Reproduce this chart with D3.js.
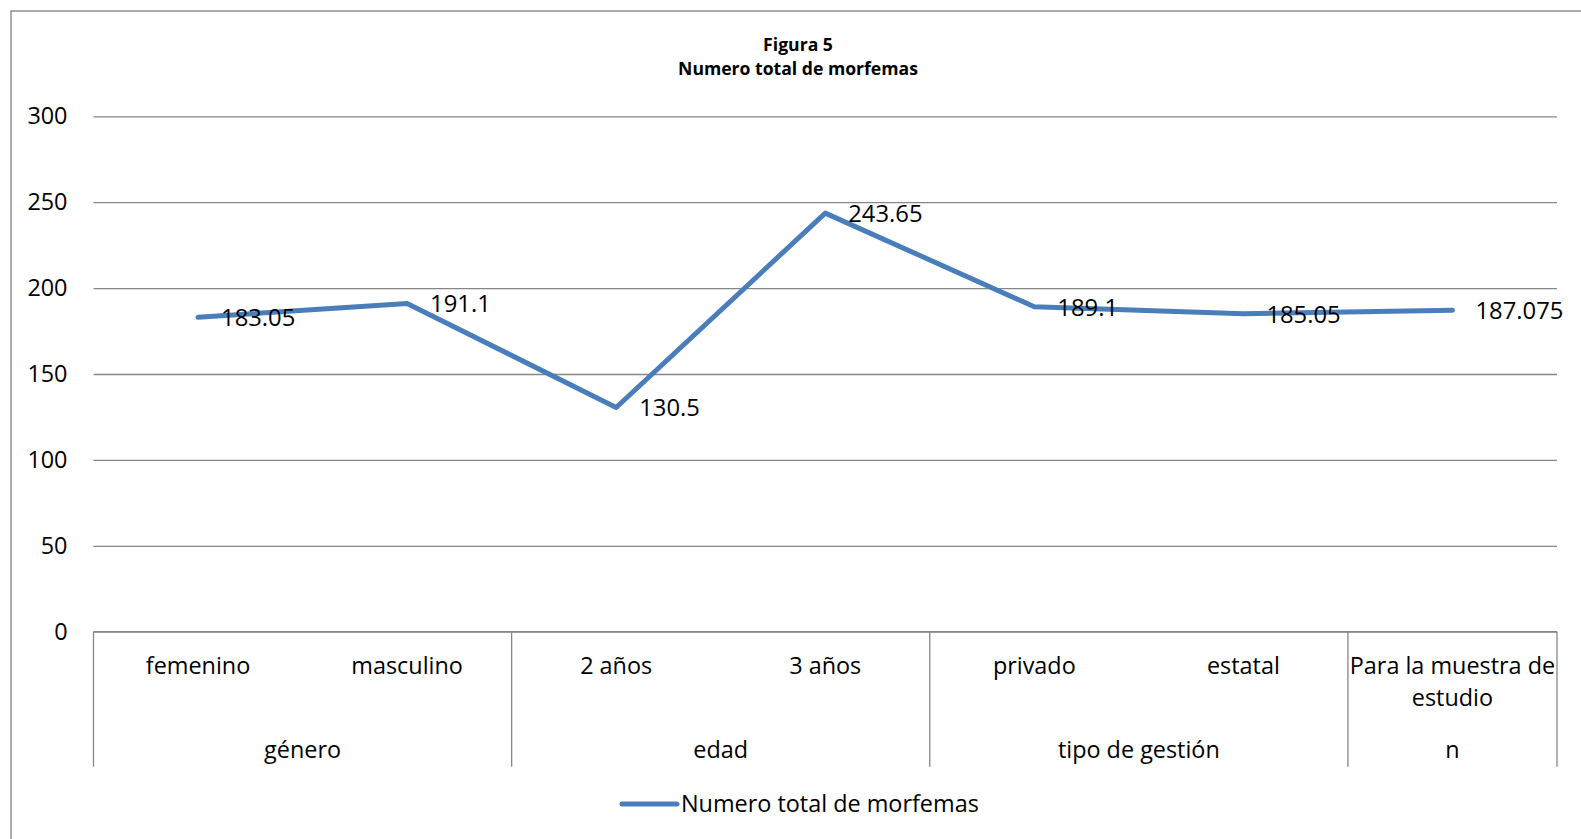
<!DOCTYPE html>
<html>
<head>
<meta charset="utf-8">
<script src="https://cdn.jsdelivr.net/npm/d3@7"></script>
<style>
  html, body { margin: 0; padding: 0; background: #fff; }
  svg { display: block; }
  text { font-family: "Open Sans", "Noto Sans", sans-serif; fill: #000; }
</style>
</head>
<body>
<svg id="chart" width="1581" height="839"></svg>
<script>
// Number of morphemes by subgroup
const categories = ["femenino", "masculino", "2 años", "3 años", "privado", "estatal", "Para la muestra de estudio"];
const groups = ["género", "género", "edad", "edad", "tipo de gestión", "tipo de gestión", "n"];
const values = [183.05, 191.1, 130.5, 243.65, 189.1, 185.05, 187.075];
const yTicks = [0, 50, 100, 150, 200, 250, 300];
const seriesName = "Numero total de morfemas";
const titleLines = ["Figura 5", "Numero total de morfemas"];

const svg = d3.select("#chart");
const W = 1581, H = 839;
const plot = { left: 93.5, right: 1557, top: 116.3, bottom: 631.7 };
const blue = "#4a7ebb";
const grid = "#868686";
const fs = 23.4;

// outer frame
svg.append("rect")
  .attr("x", 11).attr("y", 11)
  .attr("width", W).attr("height", H)
  .attr("fill", "none").attr("stroke", "#888").attr("stroke-width", 1.4);

const x = d3.scaleBand().domain(d3.range(categories.length))
  .range([plot.left, plot.right]).padding(0);
const y = d3.scaleLinear().domain([0, 300]).range([plot.bottom, plot.top]);

// title
const title = svg.append("text")
  .attr("text-anchor", "middle")
  .style("font-weight", "bold").style("font-size", "17.6px");
titleLines.forEach((t, i) => {
  title.append("tspan").attr("x", 798).attr("y", 51 + i * 24).text(t);
});

// horizontal gridlines and y axis labels
const yAxis = d3.axisLeft(y).tickValues(yTicks)
  .tickSize(-(plot.right - plot.left)).tickPadding(26).tickFormat(d3.format("d"));
const gy = svg.append("g").attr("transform", `translate(${plot.left},0)`).call(yAxis);
gy.select(".domain").remove();
gy.selectAll(".tick line").attr("stroke", grid).attr("stroke-width", 1.3);
gy.selectAll(".tick text")
  .style("font-size", fs + "px").style("font-family", "'Open Sans', sans-serif")
  .attr("fill", "#000");

// category axis (two levels)
svg.append("line")
  .attr("x1", plot.left).attr("x2", plot.right)
  .attr("y1", plot.bottom).attr("y2", plot.bottom)
  .attr("stroke", grid).attr("stroke-width", 1.3);

// group boundaries
const groupSpans = [];
groups.forEach((g, i) => {
  const last = groupSpans[groupSpans.length - 1];
  if (last && last.name === g) last.end = i;
  else groupSpans.push({ name: g, start: i, end: i });
});
const bounds = [plot.left].concat(groupSpans.map(s => x(s.end) + x.bandwidth()));
bounds.forEach(b => {
  svg.append("line")
    .attr("x1", b).attr("x2", b)
    .attr("y1", plot.bottom).attr("y2", 766.7)
    .attr("stroke", grid).attr("stroke-width", 1.3);
});

// first-level labels
categories.forEach((c, i) => {
  const cx = x(i) + x.bandwidth() / 2;
  const t = svg.append("text").attr("text-anchor", "middle").style("font-size", fs + "px");
  const lines = c === "Para la muestra de estudio" ? ["Para la muestra de", "estudio"] : [c];
  lines.forEach((l, k) => {
    t.append("tspan").attr("x", cx).attr("y", 673.5 + k * 32).text(l);
  });
});

// second-level labels
groupSpans.forEach(s => {
  const cx = (x(s.start) + x(s.end) + x.bandwidth()) / 2;
  svg.append("text").attr("text-anchor", "middle")
    .attr("x", cx).attr("y", 757.5)
    .style("font-size", fs + "px").text(s.name);
});

// series line
const line = d3.line()
  .x((d, i) => x(i) + x.bandwidth() / 2)
  .y(d => y(d));
svg.append("path").datum(values)
  .attr("d", line)
  .attr("fill", "none").attr("stroke", blue)
  .attr("stroke-width", 5)
  .attr("stroke-linejoin", "round").attr("stroke-linecap", "round");

// data labels
values.forEach((v, i) => {
  svg.append("text")
    .attr("x", x(i) + x.bandwidth() / 2 + 23)
    .attr("y", y(v) + 8.8)
    .style("font-size", "23.8px")
    .text(String(v));
});

// legend
svg.append("line")
  .attr("x1", 622).attr("x2", 677).attr("y1", 804).attr("y2", 804)
  .attr("stroke", blue).attr("stroke-width", 5).attr("stroke-linecap", "round");
svg.append("text").attr("x", 681).attr("y", 812)
  .style("font-size", fs + "px").text(seriesName);
</script>
</body>
</html>
